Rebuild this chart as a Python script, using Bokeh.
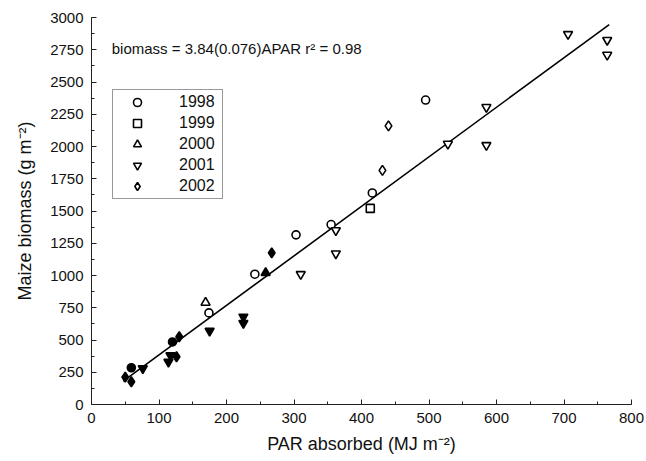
from bokeh.plotting import figure
from bokeh.models import Label, Legend, LegendItem, Range1d, SingleIntervalTicker
from bokeh.embed import file_html
from bokeh.resources import INLINE

# ---- data ----
years = ["1998", "1999", "2000", "2001", "2002"]
markers = ["circle", "square", "triangle", "inverted_triangle", "diamond"]

y1998_open_x = [174, 242, 303, 355, 416, 495]
y1998_open_y = [710, 1010, 1315, 1395, 1640, 2360]
y1998_fill_x = [59, 120]
y1998_fill_y = [285, 485]

y1999_open_x = [413]
y1999_open_y = [1520]
y1999_fill_x = []
y1999_fill_y = []

y2000_open_x = [169]
y2000_open_y = [790]
y2000_fill_x = [258]
y2000_fill_y = [1020]

y2001_open_x = [310, 362, 362, 528, 585, 585, 706, 764, 764]
y2001_open_y = [1010, 1350, 1170, 2020, 2305, 2010, 2870, 2825, 2710]
y2001_fill_x = [76, 114, 117, 175, 225, 225]
y2001_fill_y = [279, 330, 380, 570, 680, 630]

y2002_open_x = [431, 440]
y2002_open_y = [1815, 2160]
y2002_fill_x = [50, 59, 126, 130, 267]
y2002_fill_y = [212, 176, 370, 525, 1175]

slope = 3.84
fit_x = [47, 767]
equation = "biomass = 3.84(0.076)APAR r\u00b2 = 0.98"

x_ticks_step = 100
y_ticks_step = 250

FONT = "Liberation Sans"

p = figure(width=646, height=461, output_backend="svg", toolbar_location=None,
           x_range=Range1d(0, 800), y_range=Range1d(0, 3000),
           min_border_left=91, min_border_right=15, min_border_top=17,
           min_border_bottom=57)
p.outline_line_color = None
p.xgrid.visible = False
p.ygrid.visible = False
p.background_fill_color = "white"
p.border_fill_color = "white"

for ax in (p.xaxis[0], p.yaxis[0]):
    ax.major_tick_in = 5
    ax.major_tick_out = 0
    ax.minor_tick_in = 3
    ax.minor_tick_out = 0
    ax.axis_line_color = "#222222"
    ax.major_tick_line_color = "#222222"
    ax.minor_tick_line_color = "#222222"
    ax.major_label_text_font = FONT
    ax.major_label_text_font_size = "15px"
    ax.major_label_text_color = "#111111"
    ax.axis_label_text_font = FONT
    ax.axis_label_text_font_size = "18px"
    ax.axis_label_text_font_style = "normal"
    ax.axis_label_text_color = "#111111"

p.xaxis[0].ticker = SingleIntervalTicker(interval=x_ticks_step, num_minor_ticks=2)
p.yaxis[0].ticker = SingleIntervalTicker(interval=y_ticks_step, num_minor_ticks=2)
p.xaxis[0].major_label_standoff = 8
p.yaxis[0].major_label_standoff = 8
p.xaxis[0].axis_label = "PAR absorbed (MJ m\u207b\u00b2)"
p.yaxis[0].axis_label = "Maize biomass (g m\u207b\u00b2)"
p.xaxis[0].axis_label_standoff = 8
p.yaxis[0].axis_label_standoff = 12

# regression line
p.line(fit_x, [slope * v for v in fit_x], line_color="black", line_width=1.6)

open_sets = [(y1998_open_x, y1998_open_y), (y1999_open_x, y1999_open_y),
             (y2000_open_x, y2000_open_y), (y2001_open_x, y2001_open_y),
             (y2002_open_x, y2002_open_y)]
fill_sets = [(y1998_fill_x, y1998_fill_y), (y1999_fill_x, y1999_fill_y),
             (y2000_fill_x, y2000_fill_y), (y2001_fill_x, y2001_fill_y),
             (y2002_fill_x, y2002_fill_y)]

items = []
for yr, mk, (ox, oy), (fx, fy) in zip(years, markers, open_sets, fill_sets):
    size = 9 if mk in ("triangle", "inverted_triangle") else 8
    if mk == "diamond":
        size = 10
    r_open = p.scatter(ox, oy, marker=mk, size=size, line_color="black",
                       fill_color="white", line_width=1.6)
    if fx:
        p.scatter(fx, fy, marker=mk, size=size, line_color="black",
                  fill_color="black", line_width=1.6)
    items.append(LegendItem(label=yr, renderers=[r_open]))

legend = Legend(items=items, location=(21, 205), orientation="vertical",
                label_text_font=FONT, label_text_font_size="16px",
                label_text_color="#111111",
                glyph_width=44, glyph_height=20, label_height=20,
                label_standoff=20, label_width=41, spacing=1, padding=2,
                margin=0, border_line_color="#333333", border_line_width=1,
                background_fill_alpha=1.0)
p.add_layout(legend, "center")

p.add_layout(Label(x=30, y=2760, text=equation, text_font=FONT,
                   text_font_size="15px", text_baseline="middle",
                   text_color="#111111"))

open("out.html", "w").write(file_html(p, INLINE))
